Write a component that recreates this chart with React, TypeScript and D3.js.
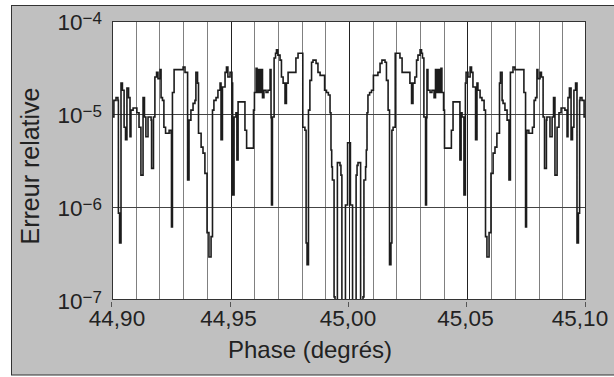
import React from 'react';
import * as d3 from 'd3';

const phaseLeft = [
  44.9000, 44.9008, 44.9017, 44.9025, 44.9027, 44.9032, 44.9038, 44.9044, 44.9051, 44.9057,
  44.9063, 44.9070, 44.9076, 44.9080, 44.9089, 44.9105, 44.9114, 44.9122, 44.9131, 44.9137,
  44.9143, 44.9152, 44.9165, 44.9167, 44.9175, 44.9181, 44.9188, 44.9194, 44.9203, 44.9207,
  44.9213, 44.9219, 44.9226, 44.9241, 44.9249, 44.9251, 44.9255, 44.9262, 44.9300, 44.9308,
  44.9319, 44.9325, 44.9333, 44.9342, 44.9350, 44.9354, 44.9361, 44.9365, 44.9376, 44.9384,
  44.9392, 44.9401, 44.9409, 44.9418, 44.9424, 44.9430, 44.9439, 44.9447, 44.9456, 44.9460,
  44.9466, 44.9477, 44.9483, 44.9489, 44.9498, 44.9506, 44.9509, 44.9515, 44.9523, 44.9527,
  44.9532, 44.9561, 44.9568, 44.9597, 44.9601, 44.9608, 44.9612, 44.9618, 44.9624, 44.9629,
  44.9635, 44.9641, 44.9650, 44.9658, 44.9667, 44.9671, 44.9673, 44.9677, 44.9684, 44.9690,
  44.9694, 44.9700, 44.9709, 44.9715, 44.9722, 44.9730, 44.9736, 44.9743, 44.9776, 44.9785,
  44.9805, 44.9814, 44.9819, 44.9823, 44.9829, 44.9835, 44.9842, 44.9848, 44.9861, 44.9869,
  44.9878, 44.9897, 44.9905, 44.9913, 44.9920, 44.9924, 44.9927, 44.9930, 44.9937, 44.9941,
  44.9947, 44.9951, 44.9962, 44.9966, 44.9970, 44.9975, 44.9979, 44.9985, 44.9994,
];
const errorLeft = [
  9.3e-6, 1.4e-5, 1.5e-5, 1.4e-5, 8.6e-7, 4.1e-7, 2.15e-5, 1.8e-5, 7.2e-6, 5.3e-6,
  1.9e-5, 1.5e-5, 5.7e-6, 1.1e-5, 1.16e-5, 1.03e-5, 7.2e-6, 2.2e-6, 1.5e-5, 9.3e-6,
  5.7e-6, 9.3e-6, 8.6e-6, 2.6e-6, 9.3e-6, 2.5e-5, 2.8e-5, 2.4e-5, 3.0e-5, 1.5e-5,
  1.4e-5, 7.2e-6, 6.2e-6, 6.7e-6, 6.2e-6, 6.1e-7, 1.7e-5, 3.0e-5, 3.2e-5, 2.8e-5,
  1.95e-6, 8.6e-6, 1.1e-5, 1.3e-5, 1.4e-5, 2.8e-5, 2.15e-5, 6.2e-6, 4.4e-6, 3.8e-6,
  2.3e-6, 5.3e-7, 2.9e-7, 4.8e-7, 1.1e-5, 1.4e-5, 1.5e-5, 1.8e-5, 2.15e-5, 5.3e-6,
  1.95e-5, 2.8e-5, 3.2e-5, 2.5e-5, 2.8e-5, 2.15e-5, 1.35e-6, 9.3e-6, 1.03e-5, 3.2e-6,
  1.35e-5, 6.7e-6, 4.3e-6, 1.1e-5, 1.7e-5, 3.1e-5, 1.7e-5, 3.0e-5, 1.7e-5, 3.0e-5,
  1.5e-5, 1.8e-5, 1.7e-5, 1.8e-5, 3.0e-5, 9.1e-6, 1.05e-6, 9.3e-6, 4.0e-5, 4.5e-5,
  4.9e-5, 4.3e-5, 3.8e-5, 2.5e-5, 2.15e-5, 1.3e-5, 2.15e-5, 2.8e-5, 4.0e-5, 4.5e-5,
  7.2e-6, 6.7e-6, 4.1e-7, 2.4e-7, 1.1e-5, 2.3e-5, 3.6e-5, 3.8e-5, 3.5e-5, 2.8e-5,
  2.6e-5, 1.8e-5, 1.7e-5, 1.6e-5, 1.03e-5, 4.1e-6, 2.7e-6, 1.95e-6, 1.08e-7, 7.8e-8,
  8.8e-8, 3.0e-6, 2.8e-6, 2.2e-6, 1.0e-7, 6.9e-8, 7.8e-8, 1.05e-6, 4.9e-6,
];
const phaseRight = [
  45.0006, 45.0015, 45.0021, 45.0025, 45.0030, 45.0034, 45.0038, 45.0049, 45.0053, 45.0059,
  45.0063, 45.0070, 45.0073, 45.0076, 45.0080, 45.0087, 45.0095, 45.0103, 45.0122, 45.0131,
  45.0139, 45.0152, 45.0158, 45.0165, 45.0171, 45.0177, 45.0181, 45.0186, 45.0195, 45.0215,
  45.0224, 45.0257, 45.0264, 45.0270, 45.0278, 45.0285, 45.0291, 45.0300, 45.0306, 45.0310,
  45.0316, 45.0323, 45.0327, 45.0329, 45.0333, 45.0342, 45.0350, 45.0359, 45.0365, 45.0371,
  45.0376, 45.0382, 45.0388, 45.0392, 45.0399, 45.0403, 45.0432, 45.0439, 45.0468, 45.0473,
  45.0477, 45.0485, 45.0491, 45.0494, 45.0502, 45.0511, 45.0517, 45.0523, 45.0534, 45.0540,
  45.0544, 45.0553, 45.0561, 45.0570, 45.0576, 45.0582, 45.0591, 45.0599, 45.0608, 45.0616,
  45.0624, 45.0635, 45.0639, 45.0646, 45.0650, 45.0658, 45.0667, 45.0675, 45.0681, 45.0692,
  45.0700, 45.0738, 45.0745, 45.0749, 45.0751, 45.0759, 45.0774, 45.0781, 45.0787, 45.0793,
  45.0797, 45.0806, 45.0812, 45.0819, 45.0825, 45.0833, 45.0835, 45.0848, 45.0857, 45.0863,
  45.0869, 45.0878, 45.0886, 45.0895, 45.0911, 45.0920, 45.0924, 45.0930, 45.0937, 45.0943,
  45.0949, 45.0956, 45.0962, 45.0968, 45.0973, 45.0975, 45.0983, 45.0992, 45.1000,
];
const errorRight = [
  1.05e-6, 7.8e-8, 6.9e-8, 1.0e-7, 2.2e-6, 2.8e-6, 3.0e-6, 8.8e-8, 7.8e-8, 1.08e-7,
  1.95e-6, 2.7e-6, 4.1e-6, 1.03e-5, 1.6e-5, 1.7e-5, 1.8e-5, 2.6e-5, 2.8e-5, 3.5e-5,
  3.8e-5, 3.6e-5, 2.3e-5, 1.1e-5, 2.4e-7, 4.1e-7, 6.7e-6, 7.2e-6, 4.5e-5, 4.0e-5,
  2.8e-5, 2.15e-5, 1.3e-5, 2.15e-5, 2.5e-5, 3.8e-5, 4.3e-5, 4.9e-5, 4.5e-5, 4.0e-5,
  9.3e-6, 1.05e-6, 9.1e-6, 3.0e-5, 1.8e-5, 1.7e-5, 1.8e-5, 1.5e-5, 3.0e-5, 1.7e-5,
  3.0e-5, 1.7e-5, 3.1e-5, 1.7e-5, 1.1e-5, 4.3e-6, 6.7e-6, 1.35e-5, 3.2e-6, 1.03e-5,
  9.3e-6, 1.35e-6, 2.15e-5, 2.8e-5, 2.5e-5, 3.2e-5, 2.8e-5, 1.95e-5, 5.3e-6, 2.15e-5,
  1.8e-5, 1.5e-5, 1.4e-5, 1.1e-5, 4.8e-7, 2.9e-7, 5.3e-7, 2.3e-6, 3.8e-6, 4.4e-6,
  6.2e-6, 2.15e-5, 2.8e-5, 1.4e-5, 1.3e-5, 1.1e-5, 8.6e-6, 1.95e-6, 2.8e-5, 3.2e-5,
  3.0e-5, 1.7e-5, 6.1e-7, 6.2e-6, 6.7e-6, 6.2e-6, 7.2e-6, 1.4e-5, 1.5e-5, 3.0e-5,
  2.4e-5, 2.8e-5, 2.5e-5, 9.3e-6, 2.6e-6, 8.6e-6, 9.3e-6, 5.7e-6, 9.3e-6, 1.5e-5,
  2.2e-6, 7.2e-6, 1.03e-5, 1.16e-5, 1.1e-5, 5.7e-6, 1.5e-5, 1.9e-5, 5.3e-6, 7.2e-6,
  1.8e-5, 2.15e-5, 4.1e-7, 8.6e-7, 1.4e-5, 1.5e-5, 1.4e-5, 9.3e-6, 9.3e-6,
];

const xTicks = [44.9, 44.95, 45.0, 45.05, 45.1];
const xTickLabels = ['44,90', '44,95', '45,00', '45,05', '45,10'];
const gridPhases = [
  44.91, 44.92, 44.93, 44.94, 44.95, 44.96, 44.97, 44.98, 44.99, 45.0,
  45.01, 45.02, 45.03, 45.04, 45.05, 45.06, 45.07, 45.08, 45.09,
];
const majorPhases = [44.95, 45.0, 45.05];
const yTicks = [1e-4, 1e-5, 1e-6, 1e-7];
const yExponents = ['\u22124', '\u22125', '\u22126', '\u22127'];
const yGrid = [1e-5, 1e-6];

const FONT = '"Liberation Sans", Arial, Helvetica, sans-serif';
const labelShift = [5, -2, -1, -2, -6];

export default function App() {
  const W = 614;
  const H = 377;
  const L = 112, R = 586, T = 21, B = 300;
  const x = d3.scaleLinear().domain([44.9, 45.1]).range([L, R]);
  const y = d3.scaleLog().domain([1e-7, 1e-4]).range([B, T]);

  const data: [number, number][] = [
    ...phaseLeft.map((p, i) => [p, errorLeft[i]] as [number, number]),
    ...phaseRight.map((p, i) => [p, errorRight[i]] as [number, number]),
  ];
  const line = d3
    .line<[number, number]>()
    .x((d) => x(d[0]))
    .y((d) => y(d[1]))
    .curve(d3.curveStepAfter);

  const px = (v: number) => Math.round(x(v)) + 0.5;
  const py = (v: number) => Math.round(y(v)) + 0.5;

  return (
    <div style={{ position: 'absolute', left: 0, top: 0 }}>
      <svg width={W} height={H} viewBox={`0 0 ${W} ${H}`} style={{ display: 'block' }}>
        <rect x={0} y={0} width={W} height={H} fill="#ffffff" />
        <rect x={11.5} y={5.5} width={700} height={369.5} fill="#c0c0c0" stroke="#333" strokeWidth={1} />
        <defs>
          <clipPath id="plotClip">
            <rect x={L} y={T} width={R - L} height={B - T} />
          </clipPath>
        </defs>
        <rect x={L} y={T} width={R - L} height={B - T} fill="#ffffff" />
        {gridPhases.map((g) => (
          <line
            key={g}
            x1={px(g)}
            x2={px(g)}
            y1={T}
            y2={B}
            stroke={majorPhases.some((m) => Math.abs(m - g) < 1e-9) ? '#222' : '#808080'}
            strokeWidth={1}
          />
        ))}
        {yGrid.map((g) => (
          <line key={g} x1={L} x2={R} y1={py(g)} y2={py(g)} stroke="#444" strokeWidth={1} />
        ))}
        <path
          d={line(data) || ''}
          fill="none"
          stroke="#1c1c1c"
          strokeWidth={1.6}
          strokeLinejoin="miter"
          clipPath="url(#plotClip)"
        />
        <rect x={L + 0.5} y={T + 0.5} width={R - L - 1} height={B - T - 1} fill="none" stroke="#333" strokeWidth={1} />
        {xTicks.map((t, i) => (
          <g key={t}>
            <line x1={px(t) - 1} x2={px(t) - 1} y1={B + 2} y2={B + 7} stroke="#555" strokeWidth={1} />
            <text
              x={x(t) + labelShift[i]}
              y={326}
              textAnchor="middle"
              fontFamily={FONT}
              fontSize={22.5}
              fill="#222"
            >
              {xTickLabels[i]}
            </text>
          </g>
        ))}
        {yTicks.map((t, i) => (
          <text key={t} x={102} y={y(t) + 8.5} textAnchor="end" fontFamily={FONT} fontSize={22.5} fill="#222">
            10
            <tspan dy={-6} fontSize={17}>
              {yExponents[i]}
            </tspan>
          </text>
        ))}
        <text
          transform={`translate(39, 166) rotate(-90)`}
          textAnchor="middle"
          fontFamily={FONT}
          fontSize={25}
          fill="#222"
        >
          Erreur relative
        </text>
        <text x={310} y={358} textAnchor="middle" fontFamily={FONT} fontSize={24} fill="#222">
          Phase (degrés)
        </text>
      </svg>
    </div>
  );
}
